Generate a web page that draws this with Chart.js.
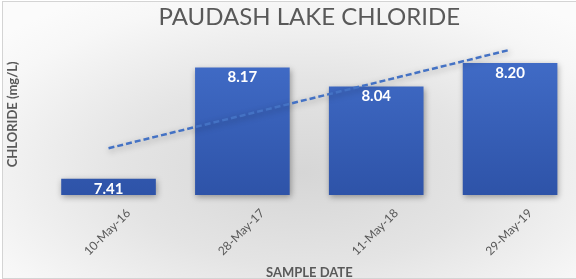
<!DOCTYPE html>
<html>
<head>
<meta charset="utf-8">
<script src="https://cdn.jsdelivr.net/npm/chart.js@4"></script>
<style>
  html, body { margin: 0; padding: 0; }
  body { width: 576px; height: 279px; overflow: hidden; background: #fff; }
  #wrap {
    position: absolute; left: 2px; top: 1px; width: 574px; height: 276px;
    border-left: 1px solid #d4d4d4; border-top: 1px solid #d4d4d4; border-bottom: 1px solid #d4d4d4;
    background: radial-gradient(ellipse 70% 75% at 52% 62%, #d6d6d6 0%, #e4e4e4 45%, #f7f7f7 85%, #fbfbfb 100%);
  }
  canvas { display: block; }
</style>
</head>
<body>
<div id="wrap"><canvas id="chart" width="574" height="276"></canvas></div>
<script>
const sampleDates = ['10-May-16', '28-May-17', '11-May-18', '29-May-19'];
const chlorideValues = [7.41, 8.17, 8.04, 8.20];
const yMin = 7.3;
const yMax = 8.4;

// linear trendline (least squares) like Excel
function trendline(values) {
    const n = values.length;
    const mx = (n - 1) / 2;
    const my = values.reduce((a, b) => a + b, 0) / n;
    let num = 0, den = 0;
    values.forEach((v, i) => { num += (i - mx) * (v - my); den += (i - mx) * (i - mx); });
    const slope = num / den;
    return values.map((v, i) => my + slope * (i - mx));
}

const shadowPlugin = {
    id: 'shadow',
    beforeDatasetDraw(chart) {
        const ctx = chart.ctx;
        ctx.save();
        ctx.shadowColor = 'rgba(0,0,0,0.35)';
        ctx.shadowBlur = 6;
        ctx.shadowOffsetX = 1;
        ctx.shadowOffsetY = 2;
    },
    afterDatasetDraw(chart) {
        chart.ctx.restore();
    }
};

const valueLabels = {
    id: 'valueLabels',
    afterDatasetsDraw(chart) {
        const ctx = chart.ctx;
        const meta = chart.getDatasetMeta(1);
        ctx.save();
        ctx.fillStyle = '#ffffff';
        ctx.font = 'bold 15px Lato';
        ctx.textAlign = 'center';
        ctx.textBaseline = 'middle';
        meta.data.forEach((bar, i) => {
            ctx.fillText(chlorideValues[i].toFixed(2), bar.x, bar.y + 10);
        });
        ctx.restore();
    }
};

const ctx = document.getElementById('chart').getContext('2d');
new Chart(ctx, {
    data: {
        labels: sampleDates,
        datasets: [{
            type: 'line',
            data: trendline(chlorideValues),
            borderColor: '#4472c4',
            borderWidth: 2.5,
            borderDash: [6, 3],
            pointRadius: 0,
            fill: false,
            clip: false,
            order: 0
        }, {
            type: 'bar',
            data: chlorideValues,
            backgroundColor: function (context) {
                const area = context.chart.chartArea;
                if (!area) return '#3a63bd';
                const g = context.chart.ctx.createLinearGradient(0, area.top, 0, area.bottom);
                g.addColorStop(0, '#4470cc');
                g.addColorStop(1, '#2e53a8');
                return g;
            },
            barPercentage: 0.707,
            categoryPercentage: 1,
            base: yMin,
            clip: false,
            order: 1
        }]
    },
    options: {
        responsive: false,
        animation: false,
        layout: { padding: { left: 0, right: 0, top: 0, bottom: -3 } },
        plugins: {
            legend: { display: false },
            tooltip: { enabled: false },
            title: {
                display: true,
                fullSize: false,
                text: 'PAUDASH LAKE CHLORIDE',
                color: '#595959',
                font: { family: 'Lato', size: 24, weight: 'normal' },
                padding: { top: 1, bottom: 2 }
            }
        },
        scales: {
            x: {
                grid: { display: false },
                border: { display: false },
                ticks: {
                    color: '#595959',
                    font: { family: 'Lato', size: 12 },
                    minRotation: 45,
                    maxRotation: 45,
                    labelOffset: 20,
                    padding: 3
                },
                title: {
                    display: true,
                    text: 'SAMPLE DATE',
                    color: '#595959',
                    font: { family: 'Lato', size: 13, weight: 'bold' },
                    padding: { top: 4, bottom: 0 }
                }
            },
            y: {
                min: yMin,
                max: yMax,
                grid: { display: false },
                border: { display: false },
                ticks: { display: false },
                title: {
                    display: true,
                    text: 'CHLORIDE (mg/L)',
                    color: '#595959',
                    font: { family: 'Lato', size: 13, weight: 'bold' },
                    padding: { top: 2, bottom: 13 }
                }
            }
        }
    },
    plugins: [shadowPlugin, valueLabels]
});
</script>
</body>
</html>
